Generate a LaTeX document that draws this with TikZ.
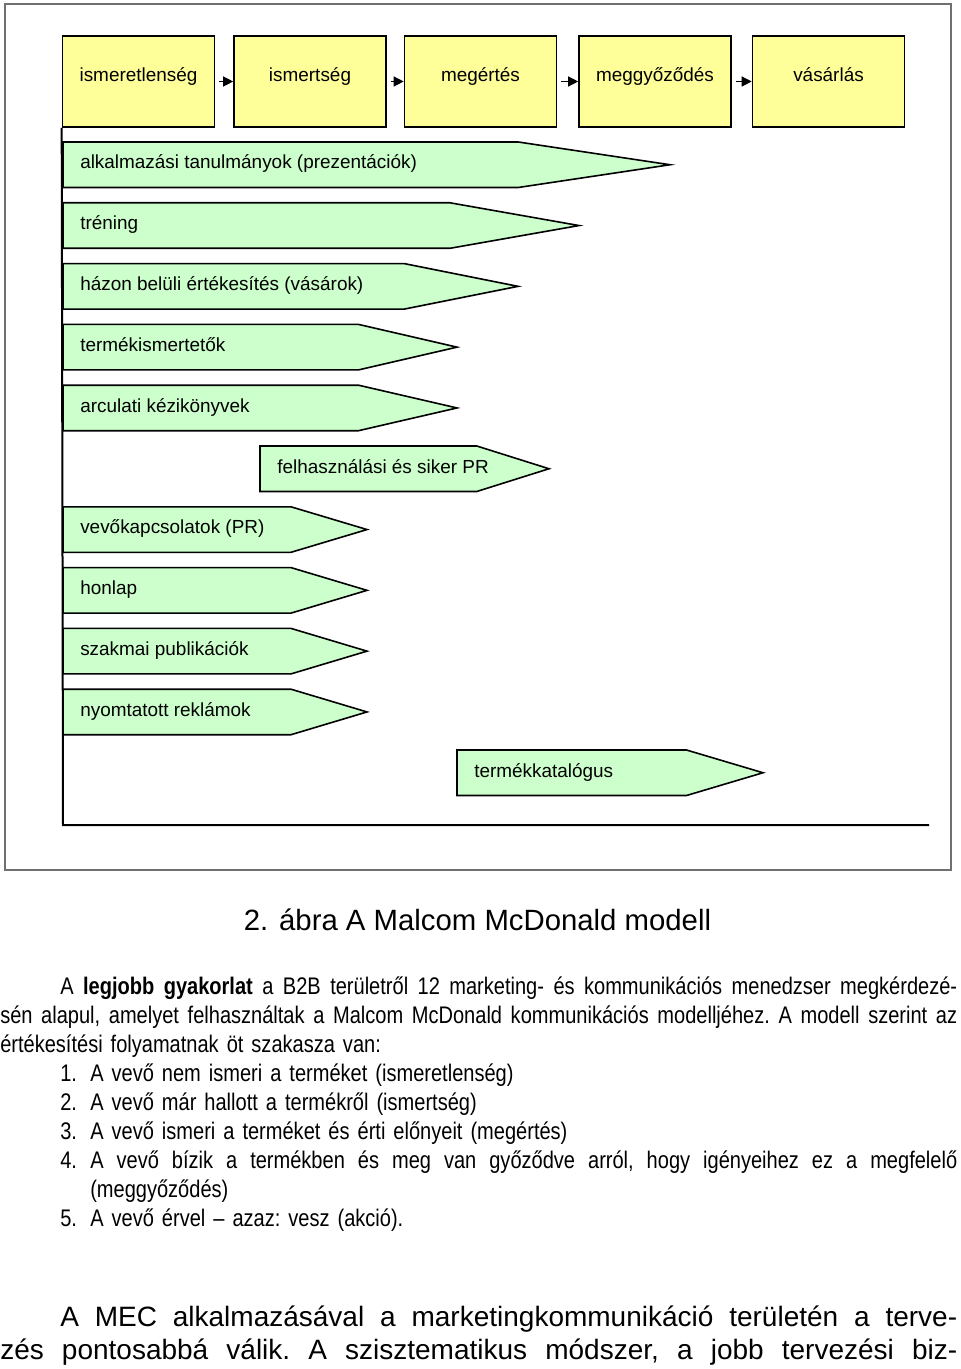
\documentclass[tikz,border=0pt]{standalone}
\usepackage{fontspec}
\setmainfont{Liberation Sans}
\newfontfamily\narrowfont[FakeStretch=0.835]{Liberation Sans}
\usepackage{tikz}
\usetikzlibrary{
  positioning,
  arrows.meta
}
\definecolor{stagefill}{HTML}{FFFF99}
\definecolor{toolfill}{HTML}{CCFFCC}
\definecolor{framegray}{HTML}{707070}
% a line spread to a given width, extra room shared by the spaces
\newcommand\fullline[2]{\leavevmode\hbox to #1{%
  \spaceskip=\fontdimen2\font plus 1fil\xspaceskip=\spaceskip #2}}

\begin{document}
\begin{tikzpicture}[
    x=0.75pt, y=-0.75pt,
    stage/.style={draw, line width=1.2pt, fill=stagefill,
                  minimum width=114pt, minimum height=68.25pt, inner sep=0pt,
                  text height=7pt, text depth=7pt,
                  font=\fontsize{14.2pt}{17pt}\selectfont},
    flow/.style={line width=0.9pt, shorten <=3pt,
                 -{Triangle[length=7.5pt,width=7.5pt]}},
    tool/.style={draw, line width=1.2pt, fill=toolfill, line join=miter},
    toollabel/.style={anchor=base west, inner sep=0pt,
                      font=\fontsize{14.2pt}{17pt}\selectfont},
    axis/.style={line width=1.5pt},
    bodytext/.style={anchor=base west, inner sep=0pt, align=left,
                     font=\narrowfont\fontsize{18pt}{21.75pt}\selectfont\frenchspacing},
  ]
  \useasboundingbox (0,0) rectangle (960,1369);
  \draw[framegray, line width=1.2pt] (5,4) rectangle (951,870);

  % stages of the sales process
  \node[stage] (s1) at (138.5,81.5) {ismeretlenség};
  \node[stage] (s2) at (310,81.5)   {ismertség};
  \node[stage] (s3) at (480.5,81.5) {megértés};
  \node[stage] (s4) at (655,81.5)   {meggyőződés};
  \node[stage] (s5) at (828.5,81.5) {vásárlás};
  \foreach \a/\b in {s1/s2, s2/s3, s3/s4, s4/s5}
    \draw[flow] (\a) -- (\b);

  \coordinate (corner) at (63,825);
  \coordinate (axend) at (929,825);
  \draw[axis] (s1.south west) -- (corner) -- (axend);

  % communication tools, one band per row
  \foreach \i/\lx/\tx/\lbl in {
      1/63/670/{alkalmazási tanulmányok (prezentációk)},
      2/63/579/{tréning},
      3/63/518/{házon belüli értékesítés (vásárok)},
      4/63/457/{termékismertetők},
      5/63/457/{arculati kézikönyvek},
      6/260/549/{felhasználási és siker PR},
      7/63/367/{vevőkapcsolatok (PR)},
      8/63/367/{honlap},
      9/63/367/{szakmai publikációk},
      10/63/367/{nyomtatott reklámok},
      11/457/763/{termékkatalógus}} {
    \pgfmathsetmacro\ty{142+60.8*(\i-1)}
    \pgfmathsetmacro\sx{\tx-0.25*(\tx-\lx)}
    \draw[tool] (\lx,\ty) -- (\sx,\ty) -- (\tx,\ty+22.75)
      -- (\sx,\ty+45.5) -- (\lx,\ty+45.5) -- cycle;
    \node[toollabel] (t\i) at (\lx+17,\ty+27) {\lbl};
  }

  \node[anchor=base, inner sep=0pt, font=\fontsize{22pt}{26pt}\selectfont]
    (cap) at (477.5,930) {2. ábra A Malcom McDonald modell};

  \node[bodytext, text width=717.75pt] (p1) at (0,994) {%
    \hspace*{45pt}\fullline{672.75pt}{A \textbf{legjobb gyakorlat} a B2B területről 12 marketing- és kommunikációs menedzser megkérdezé-}\\
    \fullline{717.75pt}{sén alapul, amelyet felhasználtak a Malcom McDonald kommunikációs modelljéhez. A modell szerint az}\\
    értékesítési folyamatnak öt szakasza van:};

  \node[bodytext, text width=672.75pt] (steps) at (60,1081) {%
    \makebox[22.5pt][l]{1.}A vevő nem ismeri a terméket (ismeretlenség)\\
    \makebox[22.5pt][l]{2.}A vevő már hallott a termékről (ismertség)\\
    \makebox[22.5pt][l]{3.}A vevő ismeri a terméket és érti előnyeit (megértés)\\
    \makebox[22.5pt][l]{4.}\fullline{650.25pt}{A vevő bízik a termékben és meg van győződve arról, hogy igényeihez ez a megfelelő}\\
    \hspace*{22.5pt}(meggyőződés)\\
    \makebox[22.5pt][l]{5.}A vevő érvel – azaz: vesz (akció).};

  \node[bodytext, text width=717.75pt,
        font=\fontsize{21pt}{24.75pt}\selectfont\frenchspacing]
    (p2) at (0,1326) {%
    \hspace*{45pt}\fullline{672.75pt}{A MEC alkalmazásával a marketingkommunikáció területén a terve-}\\
    \fullline{717.75pt}{zés pontosabbá válik. A szisztematikus módszer, a jobb tervezési biz-}};
\end{tikzpicture}
\end{document}
